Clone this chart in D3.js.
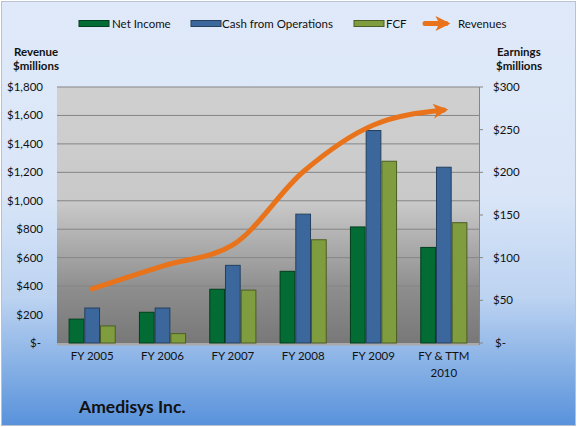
<!DOCTYPE html>
<html><head><meta charset="utf-8">
<script src="https://cdn.jsdelivr.net/npm/d3@7"></script>
<style>
html,body{margin:0;padding:0;background:#fff;}
text{font-family:Lato,"Open Sans",sans-serif;fill:#111;}
</style></head>
<body>
<svg id="chart" width="577" height="427"></svg>
<script>
const categories = ["FY 2005","FY 2006","FY 2007","FY 2008","FY 2009","FY & TTM 2010"];
const seriesNames = ["Net Income","Cash from Operations","FCF"];
const netIncome = [28, 36, 63, 84, 136, 112];
const cashOps   = [41, 41, 91, 151, 249, 206];
const fcf       = [20, 11, 62, 121, 213, 141];
const revenues  = [381, 541, 690, 1204, 1533, 1638];
const leftTicks = [0,200,400,600,800,1000,1200,1400,1600,1800];
const rightTicks = [0,50,100,150,200,250,300];

const svg = d3.select("#chart");
const W = 577, H = 427;
const plot = {l:57, r:479, t:87, b:343};

const defs = svg.append("defs");
const bg = defs.append("linearGradient").attr("id","bg").attr("x1",0).attr("y1",0).attr("x2",0).attr("y2",1);
[[0,"#dfe9f9"],[0.45,"#dae6f8"],[0.7,"#bcd3f1"],[1,"#5892db"]].forEach(s=>bg.append("stop").attr("offset",s[0]).attr("stop-color",s[1]));
const pg = defs.append("linearGradient").attr("id","pg").attr("x1",0).attr("y1",0).attr("x2",0).attr("y2",1);
[[0,"#d0d0d0"],[0.45,"#c9c9c9"],[0.8,"#8c8c8c"],[1,"#787878"]].forEach(s=>pg.append("stop").attr("offset",s[0]).attr("stop-color",s[1]));

const mk = defs.append("marker").attr("id","arrow").attr("viewBox","0 0 10 10")
  .attr("refX",7).attr("refY",5).attr("markerWidth",3.6).attr("markerHeight",3.0)
  .attr("orient","auto").attr("markerUnits","strokeWidth");
mk.append("path").attr("d","M0,0 L10,5 L0,10 L2.5,5 Z").attr("fill","#e8731a");

svg.append("rect").attr("x",1.5).attr("y",1.5).attr("width",W-3).attr("height",H-3)
  .attr("fill","url(#bg)").attr("stroke","#b9c3cf").attr("stroke-width",1);

svg.append("rect").attr("x",plot.l).attr("y",plot.t).attr("width",plot.r-plot.l).attr("height",plot.b-plot.t)
  .attr("fill","url(#pg)");

const x0 = d3.scaleBand().domain(categories).range([plot.l,plot.r]).paddingInner(0.33).paddingOuter(0.165);
const x1 = d3.scaleBand().domain(seriesNames).range([0,x0.bandwidth()]);
const yL = d3.scaleLinear().domain([0,1800]).range([plot.b,plot.t]);
const yR = d3.scaleLinear().domain([0,300]).range([plot.b,plot.t]);

// gridlines
svg.append("g").selectAll("line").data(leftTicks.filter(d=>d>0)).join("line")
  .attr("x1",plot.l).attr("x2",plot.r).attr("y1",d=>yL(d)).attr("y2",d=>yL(d))
  .attr("stroke","#858585").attr("stroke-width",1);

// floor
svg.append("rect").attr("x",plot.l).attr("y",plot.b).attr("width",plot.r-plot.l).attr("height",2.5).attr("fill","#a9a9a9");
// right axis line
svg.append("line").attr("x1",plot.r+0.5).attr("x2",plot.r+0.5).attr("y1",plot.t).attr("y2",plot.b+2).attr("stroke","#868686");

// left axis labels
const fmtL = d => d===0 ? "$-" : "$" + d3.format(",")(d);
svg.append("g").selectAll("text").data(leftTicks).join("text")
  .attr("x",d=>d===0?41:43).attr("y",d=>yL(d)).attr("dy","0.35em").attr("text-anchor","end")
  .attr("font-size","11.5px").text(fmtL);
// right axis
const rg = svg.append("g");
rg.selectAll("line").data(rightTicks).join("line")
  .attr("x1",plot.r).attr("x2",plot.r+4).attr("y1",d=>yR(d)).attr("y2",d=>yR(d)).attr("stroke","#868686");
rg.selectAll("text").data(rightTicks).join("text")
  .attr("x",d=>d===0?495:493).attr("y",d=>yR(d)).attr("dy","0.35em").attr("text-anchor","start")
  .attr("font-size","11.5px").text(d=>d===0?"$-":"$"+d);

// bars
const colors = {"Net Income":"#026c34","Cash from Operations":"#3c679d","FCF":"#7f9c3f"};
const strokes = {"Net Income":"#013f1d","Cash from Operations":"#23405f","FCF":"#4c5e25"};
const data = categories.map((c,i)=>({cat:c, vals:[netIncome[i],cashOps[i],fcf[i]]}));
const grp = svg.append("g").selectAll("g").data(data).join("g").attr("transform",d=>`translate(${x0(d.cat)},0)`);
grp.selectAll("rect").data(d=>d.vals.map((v,j)=>({name:seriesNames[j],v}))).join("rect")
  .attr("x",d=>x1(d.name)+0.5).attr("width",x1.bandwidth()-1)
  .attr("y",d=>yR(d.v)).attr("height",d=>plot.b-yR(d.v))
  .attr("fill",d=>colors[d.name]).attr("stroke",d=>strokes[d.name]).attr("stroke-width",1);

// revenue line
const line = d3.line().x((d,i)=>x0(categories[i])+x0.bandwidth()/2).y(d=>yL(d)).curve(d3.curveMonotoneX);
svg.append("path").datum(revenues).attr("d",line).attr("fill","none")
  .attr("stroke","#e8731a").attr("stroke-width",5).attr("stroke-linecap","round")
  .attr("marker-end","url(#arrow)");

// x labels
const xl = svg.append("g").selectAll("text").data(categories).join("text")
  .attr("x",d=>x0(d)+x0.bandwidth()/2).attr("y",360).attr("text-anchor","middle").attr("font-size","11.5px");
xl.each(function(d){
  const t = d3.select(this);
  if(d==="FY & TTM 2010"){
    t.append("tspan").attr("x",x0(d)+x0.bandwidth()/2).text("FY & TTM");
    t.append("tspan").attr("x",x0(d)+x0.bandwidth()/2).attr("dy",17).text("2010");
  } else t.text(d);
});

// axis titles
const at = svg.append("g").attr("font-weight","bold").attr("font-size","11.5px");
at.append("text").attr("x",14).attr("y",56).text("Revenue");
at.append("text").attr("x",13).attr("y",70).text("$millions");
at.append("text").attr("x",497).attr("y",56).text("Earnings");
at.append("text").attr("x",496).attr("y",70).text("$millions");

// legend
const lg = svg.append("g");
const legItems = [
  {name:"Net Income", sx:79, tx:112},
  {name:"Cash from Operations", sx:191, tx:222},
  {name:"FCF", sx:354, tx:386}
];
legItems.forEach(it=>{
  lg.append("rect").attr("x",it.sx).attr("y",20.5).attr("width",30).attr("height",6)
    .attr("fill",colors[it.name]).attr("stroke",strokes[it.name]).attr("stroke-width",1);
  lg.append("text").attr("x",it.tx).attr("y",24).attr("dy","0.35em").attr("font-size","11.5px").text(it.name);
});
lg.append("line").attr("x1",425).attr("x2",446).attr("y1",23.5).attr("y2",23.5)
  .attr("stroke","#e8731a").attr("stroke-width",5).attr("stroke-linecap","round").attr("marker-end","url(#arrow)");
lg.append("text").attr("x",458).attr("y",24).attr("dy","0.35em").attr("font-size","11.5px").text("Revenues");

// title
svg.append("text").attr("x",79).attr("y",413).attr("font-weight","bold").attr("font-size","17.5px").text("Amedisys Inc.");
</script>
</body></html>
